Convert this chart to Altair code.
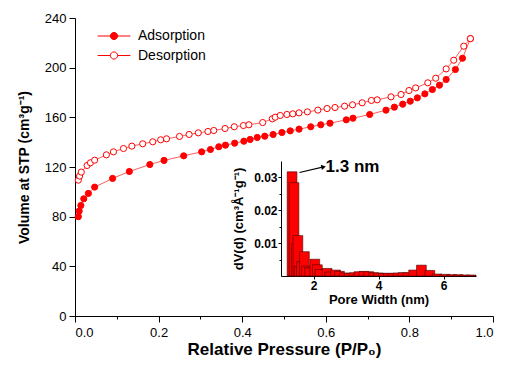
import altair as alt
import pandas as pd

# ---- isotherm data ----
ads_p = [0.008, 0.010, 0.014, 0.021, 0.032, 0.047, 0.090, 0.130, 0.179, 0.213, 0.260, 0.303,
         0.324, 0.344, 0.360, 0.382, 0.404, 0.419, 0.436, 0.454, 0.474, 0.495, 0.515, 0.536,
         0.564, 0.588, 0.610, 0.649, 0.665, 0.705, 0.744, 0.764, 0.784, 0.802, 0.819, 0.837,
         0.855, 0.872, 0.888, 0.910, 0.927, 0.946]
ads_v = [80.0, 84.5, 89.0, 94.4, 98.7, 103.8, 110.8, 116.4, 122.0, 125.3, 129.0, 132.2,
         134.1, 136.3, 137.6, 139.2, 140.8, 142.2, 143.8, 144.8, 146.2, 147.8, 149.1, 150.5,
         152.4, 154.0, 155.3, 158.0, 159.3, 162.3, 165.8, 168.2, 170.6, 173.0, 175.7, 178.9,
         182.4, 185.9, 190.5, 198.5, 207.6, 223.4]

des_p = [0.008, 0.011, 0.015, 0.029, 0.037, 0.047, 0.075, 0.092, 0.116, 0.136, 0.162, 0.186,
         0.205, 0.219, 0.250, 0.273, 0.295, 0.318, 0.332, 0.359, 0.381, 0.403, 0.416, 0.449,
         0.472, 0.479, 0.491, 0.507, 0.521, 0.536, 0.556, 0.581, 0.603, 0.622, 0.645, 0.664,
         0.687, 0.709, 0.723, 0.756, 0.780, 0.799, 0.815, 0.844, 0.863, 0.888, 0.906, 0.930, 0.946]
des_v = [109.4, 112.7, 115.9, 121.2, 123.4, 125.5, 129.8, 132.2, 134.9, 136.8, 138.7, 140.3,
         141.9, 142.7, 144.6, 146.2, 147.5, 148.6, 149.4, 151.0, 152.4, 153.4, 154.0, 155.8,
         158.8, 160.1, 161.5, 162.3, 162.8, 163.6, 164.4, 165.8, 167.1, 167.9, 169.0, 170.1,
         171.7, 173.6, 174.1, 176.5, 178.4, 181.6, 183.7, 187.8, 191.5, 199.0, 206.0, 217.3, 223.4]

series_names = ["Adsorption", "Desorption"]

# ---- pore size distribution (inset) ----
pore_w = [1.34, 1.40, 1.47, 1.52, 1.56, 1.63, 1.72, 1.78, 1.88, 2.04, 2.12, 2.20, 2.42, 2.50,
          2.68, 2.80, 2.95, 3.10, 3.25, 3.40, 3.55, 3.70, 3.85, 4.00, 4.15, 4.30, 4.45, 4.60,
          4.75, 4.90, 5.08, 5.32, 5.58, 5.80, 6.05, 6.25, 6.45, 6.65, 6.85]
dv = [0.0317, 0.0284, 0.0098, 0.0123, 0.0029, 0.0044, 0.0074, 0.0030, 0.0025, 0.0051, 0.0034,
      0.0020, 0.0023, 0.0012, 0.0018, 0.0014, 0.0009, 0.0008, 0.0010, 0.0013, 0.0014, 0.0013,
      0.0010, 0.0009, 0.0008, 0.0008, 0.0008, 0.0009, 0.0010, 0.0010, 0.0018, 0.0033, 0.0017,
      0.0006, 0.0005, 0.0004, 0.0004, 0.0003, 0.0003]

peak_label = "1.3 nm"
arrow_from = [1.57, 0.0315]
arrow_to = [2.31, 0.0332]

FONT = "Liberation Sans"
RED = "#FF0000"
LINE = "#FF5C5C"
BAR_W = 0.3

main_df = pd.concat([
    pd.DataFrame({"P": ads_p, "V": ads_v, "series": series_names[0]}),
    pd.DataFrame({"P": des_p, "V": des_v, "series": series_names[1]}),
], ignore_index=True)

psd_df = pd.DataFrame({"w": pore_w, "dv": dv, "order": list(range(len(pore_w)))})
arrow_df = pd.DataFrame({"xa": [arrow_from[0]], "ya": [arrow_from[1]],
                         "xb": [arrow_to[0]], "yb": [arrow_to[1]], "label": [peak_label]})

# ---- main axes ----
xs = alt.Scale(domain=[0, 1], nice=False)
ys = alt.Scale(domain=[0, 240], nice=False)

x_axis = alt.Axis(
    title="Relative Pressure (P/P₀)", orient="bottom",
    values=[round(i * 0.1, 1) for i in range(11)],
    labelExpr="round(datum.value*10) % 2 == 0 ? format(datum.value, '.1f') : ''",
    tickSize={"condition": {"test": "round(datum.value*10) % 2 == 0", "value": 6}, "value": 3},
    labelFontSize=13, titleFontSize=17, titleFontWeight="bold",
    labelPadding=4, titlePadding=2, labelOverlap=False, grid=False,
)
y_axis = alt.Axis(
    title="Volume at STP (cm³g⁻¹)", orient="left",
    values=list(range(0, 241, 20)),
    labelExpr="datum.value % 40 == 0 ? datum.label : ''",
    tickSize={"condition": {"test": "datum.value % 40 == 0", "value": 6}, "value": 3},
    labelFontSize=13, titleFontSize=14, titleFontWeight="bold",
    labelPadding=3, titlePadding=13, labelOverlap=False, grid=False,
)

LEGEND_PATH = ("M-4.1,0H-0.9M0.9,0H4.1M-0.9,0A0.9,0.9,0,1,1,0.9,0"
               "A0.9,0.9,0,1,1,-0.9,0Z")

lines = alt.Chart(main_df).mark_line(color=LINE, strokeWidth=1).encode(
    x=alt.X("P:Q", scale=xs, axis=x_axis),
    y=alt.Y("V:Q", scale=ys, axis=y_axis),
    detail="series:N",
)
points = alt.Chart(main_df).mark_point(
    shape="circle", filled=True, size=38, stroke=RED, strokeWidth=1, opacity=1
).encode(
    x=alt.X("P:Q", scale=xs),
    y=alt.Y("V:Q", scale=ys),
    fill=alt.Fill("series:N",
                  scale=alt.Scale(domain=series_names, range=[RED, "white"]),
                  legend=alt.Legend(title=None, orient="none", legendX=32, legendY=11,
                                    symbolType=LEGEND_PATH, symbolSize=64,
                                    symbolStrokeColor=RED, symbolStrokeWidth=1,
                                    labelFont=FONT, labelFontSize=14, labelColor="black",
                                    labelOffset=17, rowPadding=5.5, padding=0)),
)
main = alt.layer(lines, points)

# ---- inset ----
ix = alt.Scale(domain=[1, 7], range=[206, 401], nice=False)
iy = alt.Scale(domain=[0, 0.035], range=[258, 143], nice=False)

ix_axis = alt.Axis(title="Pore Width (nm)", orient="bottom", offset=-40,
                   values=[2, 4, 6], format="d", tickSize=3,
                   labelFontSize=12, labelFontWeight="bold",
                   titleFontSize=13, titleFontWeight="bold",
                   labelPadding=1, titlePadding=2, grid=False)
iy_axis = alt.Axis(title="dV(d) (cm³Å⁻¹g⁻¹)", orient="left", offset=-206,
                   values=[0.005, 0.01, 0.015, 0.02, 0.025, 0.03],
                   labelExpr="round(datum.value*200) % 2 == 0 ? format(datum.value, '.2f') : ''",
                   tickSize={"condition": {"test": "round(datum.value*200) % 2 == 0", "value": 3}, "value": 2},
                   labelFontSize=12, labelFontWeight="bold",
                   titleFontSize=13, titleFontWeight="bold",
                   labelPadding=1, titlePadding=8, labelOverlap=False, grid=False)

bars = alt.Chart(psd_df).transform_calculate(
    x0=f"datum.w - {BAR_W / 2}", x1=f"datum.w + {BAR_W / 2}"
).mark_rect(fill=RED, stroke="#4a0000", strokeWidth=0.6).encode(
    x=alt.X("x0:Q", scale=ix, axis=ix_axis),
    x2="x1:Q",
    y=alt.Y("dv:Q", scale=iy, axis=iy_axis),
    y2=alt.datum(0),
    order="order:Q",
)
arrow_line = alt.Chart(arrow_df).mark_rule(color="black", strokeWidth=1.2).encode(
    x="xa:Q", y="ya:Q", x2="xb:Q", y2="yb:Q"
)
arrow_head = alt.Chart(arrow_df).mark_point(
    shape="triangle-right", filled=True, color="black", size=28, angle=347, opacity=1
).encode(x="xb:Q", y="yb:Q")
peak_text = alt.Chart(arrow_df).mark_text(
    align="left", baseline="middle", fontSize=17, fontWeight="bold", font=FONT, dx=2, color="black"
).encode(x="xb:Q", y="yb:Q", text="label:N")

inset = alt.layer(bars, arrow_line, arrow_head, peak_text)

chart = alt.layer(main, inset).resolve_scale(
    x="independent", y="independent"
).properties(
    width=418, height=298,
    autosize=alt.AutoSizeParams(type="none"),
    padding={"left": 67, "top": 10, "right": 9, "bottom": 44},
).configure_view(strokeWidth=0).configure_axis(
    labelFont=FONT, titleFont=FONT, labelColor="black", titleColor="black",
    domainColor="black", tickColor="black", domainWidth=1, tickWidth=1,
)

chart.save("out.html", embed_options={"renderer": "svg", "actions": False})
